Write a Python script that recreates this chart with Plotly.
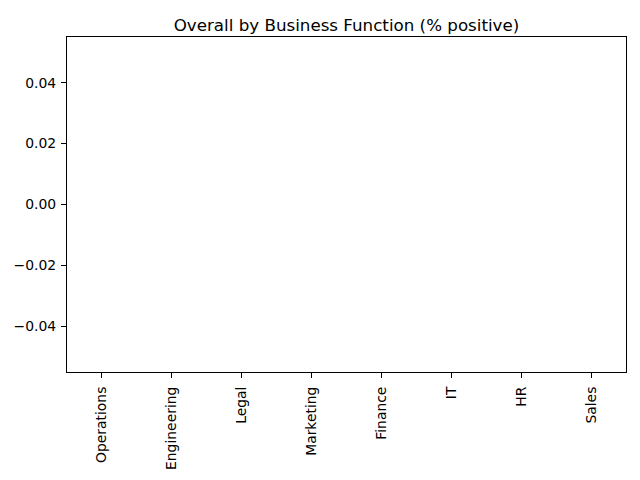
import plotly.graph_objects as go

# business functions and their % positive (no values in the source -> empty bars)
functions = ["Operations", "Engineering", "Legal", "Marketing",
             "Finance", "IT", "HR", "Sales"]
pct_positive = [None, None, None, None, None, None, None, None]
y_ticks = [-0.04, -0.02, 0.0, 0.02, 0.04]

# page body has an 8px default margin, so shrink the figure to fit the window
W, H, PAGE = 640, 480, 8

fig = go.Figure()
fig.add_trace(go.Bar(x=functions, y=pct_positive, marker_color="#1f77b4",
                     marker_line_width=0, width=0.5))

axis_style = dict(showline=True, linecolor="black", linewidth=1.1, mirror=True,
                  ticks="outside", ticklen=5, tickwidth=1.1, tickcolor="black",
                  showgrid=False, zeroline=False, automargin=False,
                  tickfont=dict(family="DejaVu Sans", size=13.9, color="black"))

fig.update_layout(
    width=W - PAGE, height=H - PAGE,
    paper_bgcolor="white", plot_bgcolor="white",
    margin=dict(l=67 - PAGE, r=14, t=37 - PAGE, b=108),
    showlegend=False,
    title=dict(text="Overall by Business Function (% positive)",
               x=(346.5 - PAGE) / (W - PAGE), xanchor="center",
               y=1 - (25 - PAGE) / (H - PAGE), yanchor="middle",
               font=dict(family="DejaVu Sans", size=16.7, color="black")),
)
fig.update_xaxes(axis_style, type="category", range=[-0.5, 7.5], tickangle=-90,
                 ticklabelstandoff=3)
fig.update_yaxes(axis_style, range=[-0.055, 0.055], tickvals=y_ticks,
                 tickformat=".2f", ticklabelstandoff=2)

fig.write_html("out.html")
